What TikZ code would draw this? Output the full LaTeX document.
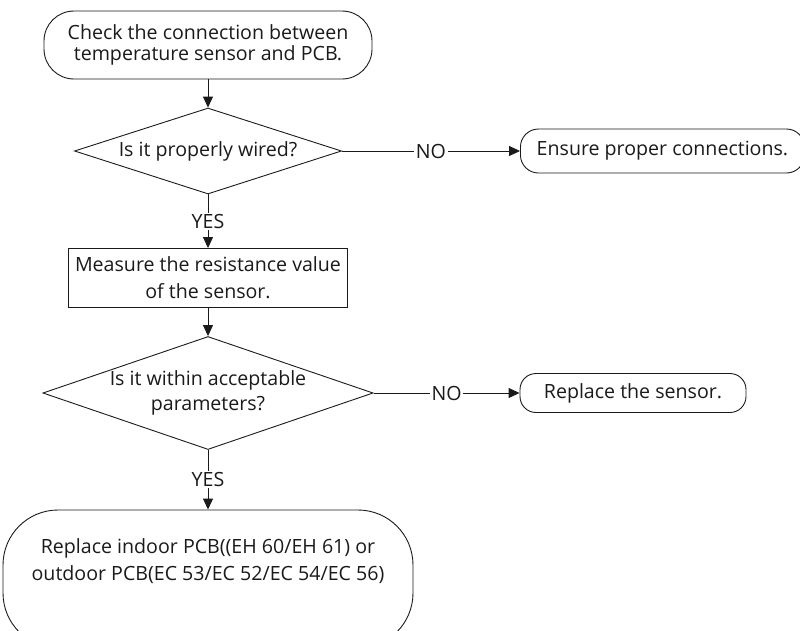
\documentclass[tikz,border=0pt]{standalone}
\usepackage{fontspec}
\setmainfont{Open Sans}
\usetikzlibrary{arrows.meta,shapes.geometric}
\definecolor{Ink}{HTML}{1A1A1A}
\tikzset{
  >={Triangle[length=11pt,width=10pt]},
  every node/.style={text=Ink, font=\fontsize{19.6}{21.5}\selectfont},
  terminal/.style={draw=Ink, rounded corners=30pt, line width=0.9pt, inner sep=0pt},
  process/.style={draw=Ink, line width=0.9pt, inner sep=0pt},
  decision/.style={diamond, draw=Ink, line width=0.9pt, inner sep=0pt},
  flow/.style={->, draw=Ink, line width=0.9pt},
  answer/.style={fill=white, inner sep=1.5pt},
}

\begin{document}
\begin{tikzpicture}[x=1pt,y=-1pt]
  \useasboundingbox (0,0) rectangle (800,630);

  % Main column: check wiring, then measure the sensor.
  \node[terminal, minimum width=328, minimum height=68, align=center] (check)
    at (208,45) {Check the connection between\\temperature sensor and PCB.};
  \node[decision, minimum width=267, minimum height=86, aspect=3.1] (wired)
    at (208,151) {Is it properly wired?};
  \node[process, minimum width=279, minimum height=59, align=center,
    font=\fontsize{19.6}{27}\selectfont] (measure)
    at (208,278) {Measure the resistance value\\of the sensor.};
  \node[decision, minimum width=329, minimum height=113, aspect=3.0,
    align=center, font=\fontsize{19.6}{25}\selectfont] (params)
    at (208,393) {Is it within acceptable\\parameters?};

  % End of the chart; its lower edge runs off the page.
  \node[terminal, rounded corners=55pt, minimum width=410, minimum height=138,
    label={[name=pcbtext, align=center, yshift=18pt,
      font=\fontsize{19.6}{27}\selectfont]center:Replace indoor PCB((EH 60/EH 61) or\\
      outdoor PCB(EC 53/EC 52/EC 54/EC 56)}] (pcb)
    at (208,579) {};

  % Side outcomes for a NO answer.
  \node[terminal, rounded corners=18pt, minimum width=284, minimum height=44,
    anchor=west] (ensure) at (520,151) {Ensure proper connections.};
  \node[terminal, rounded corners=16pt, minimum width=226, minimum height=39]
    (sensor) at (633,393) {Replace the sensor.};

  \draw[flow] (check) -- (wired);
  \draw[flow] (wired) -- node[answer] {YES} (measure);
  \draw[flow] (wired) -- node[answer] {NO} (ensure);
  \draw[flow] (measure) -- (params);
  \draw[flow] (params) -- node[answer] {NO} (sensor);
  \draw[flow] (params) -- node[answer] {YES} (pcb);
\end{tikzpicture}
\end{document}
